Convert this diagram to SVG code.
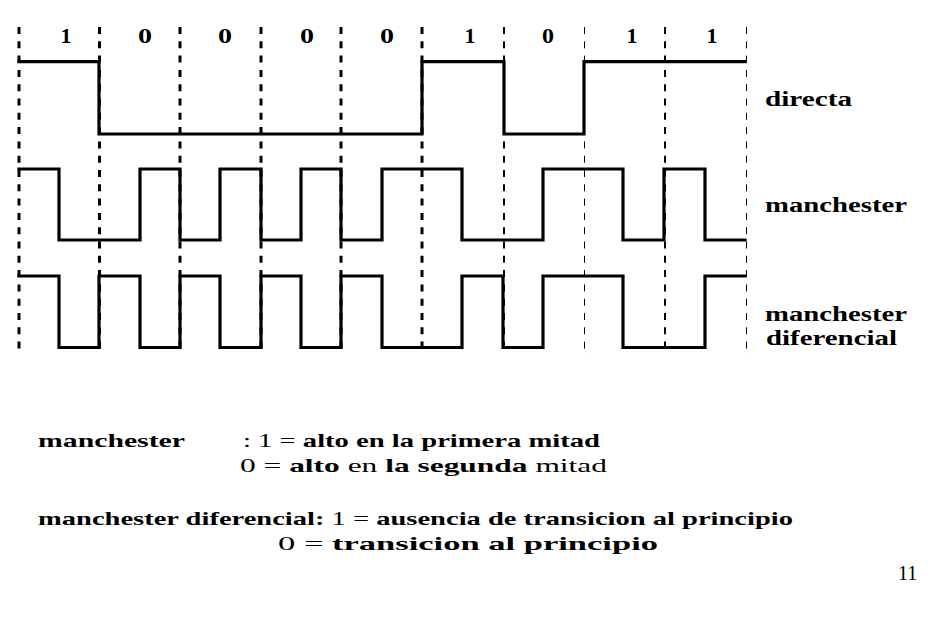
<svg xmlns="http://www.w3.org/2000/svg" width="944" height="621" viewBox="0 0 944 621">
<style>
.grid line{stroke:#000;stroke-dasharray:7 7.3;fill:none}
.wave{fill:none;stroke:#000;stroke-width:3.2;stroke-linejoin:miter;stroke-linecap:square}
text{font-family:"Liberation Serif","Times New Roman",serif;fill:#000}
.b{font-weight:bold}
.n{font-weight:normal}
.bit{font-size:20px;font-weight:bold;text-anchor:middle}
.lbl{font-size:20px;font-weight:bold}
.note{font-size:19px;font-weight:bold}
</style>
<rect width="944" height="621" fill="#fff"/>
<g id="grid" class="grid">
<line x1="19" y1="27" x2="19" y2="356" stroke-width="3"/>
<line x1="99.5" y1="27" x2="99.5" y2="356" stroke-width="3"/>
<line x1="180" y1="27" x2="180" y2="356" stroke-width="3"/>
<line x1="261" y1="27" x2="261" y2="356" stroke-width="3"/>
<line x1="341" y1="27" x2="341" y2="356" stroke-width="3"/>
<line x1="422" y1="27" x2="422" y2="356" stroke-width="3"/>
<line x1="504" y1="27" x2="504" y2="356" stroke-width="2"/>
<line x1="584.5" y1="27" x2="584.5" y2="356" stroke-width="1"/>
<line x1="665" y1="27" x2="665" y2="356" stroke-width="2"/>
<line x1="746.5" y1="27" x2="746.5" y2="356" stroke-width="1"/>
</g>
<g id="bits">
<text class="bit" x="66" y="43" textLength="11" lengthAdjust="spacingAndGlyphs">1</text>
<text class="bit" x="145" y="43" textLength="14" lengthAdjust="spacingAndGlyphs">0</text>
<text class="bit" x="225" y="43" textLength="14" lengthAdjust="spacingAndGlyphs">0</text>
<text class="bit" x="307" y="43" textLength="14" lengthAdjust="spacingAndGlyphs">0</text>
<text class="bit" x="387" y="43" textLength="14" lengthAdjust="spacingAndGlyphs">0</text>
<text class="bit" x="470" y="43" textLength="11" lengthAdjust="spacingAndGlyphs">1</text>
<text class="bit" x="548" y="43" textLength="12" lengthAdjust="spacingAndGlyphs">0</text>
<text class="bit" x="632" y="43" textLength="11" lengthAdjust="spacingAndGlyphs">1</text>
<text class="bit" x="712" y="43" textLength="11" lengthAdjust="spacingAndGlyphs">1</text>
</g>
<g id="directa">
<path class="wave" d="M19,61.7 H99 V134 H422 V61.7 H504 V134 H584 V61.7 H745"/>
<text class="lbl" x="765" y="106" textLength="87" lengthAdjust="spacingAndGlyphs">directa</text>
</g>
<g id="manchester">
<path class="wave" d="M19,169 H59 V240 H140 V169 H180 V240 H220 V169 H261 V240 H301 V169 H341 V240 H382 V169 H462 V240 H543 V169 H623 V240 H664 V169 H705 V240 H745"/>
<text class="lbl" x="765" y="212" textLength="142" lengthAdjust="spacingAndGlyphs">manchester</text>
</g>
<g id="manchester-diferencial">
<path class="wave" d="M19,276 H59 V347.5 H99 V276 H140 V347.5 H180 V276 H220 V347.5 H261 V276 H301 V347.5 H341 V276 H382 V347.5 H462 V276 H503 V347.5 H543 V276 H623 V347.5 H705 V276 H745"/>
<text class="lbl" x="765" y="321" textLength="142" lengthAdjust="spacingAndGlyphs">manchester</text>
<text class="lbl" x="766" y="345" textLength="131" lengthAdjust="spacingAndGlyphs">diferencial</text>
</g>
<g id="notes">
<text class="note" x="38" y="447" textLength="147" lengthAdjust="spacingAndGlyphs">manchester</text>
<text class="note" x="243" y="447" textLength="357" lengthAdjust="spacingAndGlyphs"><tspan class="n">: 1 = </tspan>alto en la primera mitad</text>
<text class="note" x="240" y="472" textLength="367" lengthAdjust="spacingAndGlyphs"><tspan class="n">0 = </tspan>alto <tspan class="n">en</tspan> la segunda <tspan class="n">mitad</tspan></text>
<text class="note" x="38" y="525" textLength="755" lengthAdjust="spacingAndGlyphs">manchester diferencial: <tspan class="n">1 =</tspan> ausencia de transicion al principio</text>
<text class="note" x="278" y="550" textLength="380" lengthAdjust="spacingAndGlyphs"><tspan class="n">0 = </tspan>transicion al principio</text>
<text class="n" x="898" y="580" font-size="20">11</text>
</g>
</svg>
